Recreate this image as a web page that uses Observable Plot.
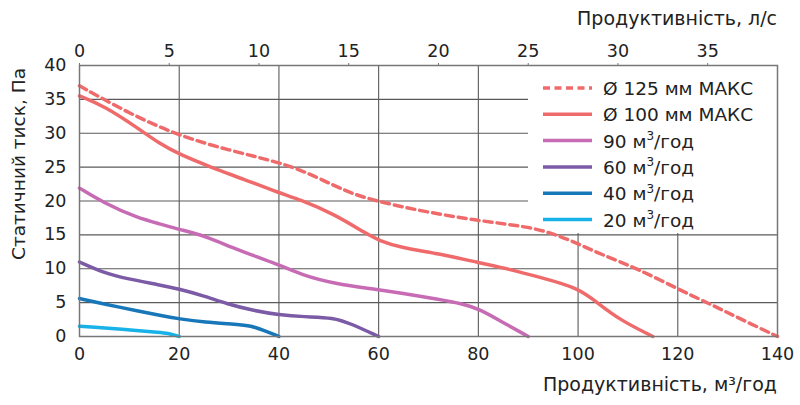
<!DOCTYPE html>
<html><head><meta charset="utf-8">
<script src="https://cdn.jsdelivr.net/npm/d3@7"></script>
<script src="https://cdn.jsdelivr.net/npm/@observablehq/plot@0.6"></script>
<style>
body{margin:0;background:#fff}
svg{font-family:'DejaVu Sans',sans-serif}
</style>
</head><body><div id="chart"></div>
<script>
// ---- data (flow in m³/год, static pressure in Па) ----
const seriesNames = ["Ø 125 мм МАКС", "Ø 100 мм МАКС", "90 м³/год", "60 м³/год", "40 м³/год", "20 м³/год"];
const seriesColors = ["#ef6b6b", "#ef6b6b", "#c76cb4", "#7b5aa6", "#1877b9", "#17b2e8"];

const d125Flow = [0, 10, 20, 30, 40, 45, 51, 55, 60, 70, 80, 90, 95, 100, 105, 112, 120, 127, 132, 140];
const d125Pa   = [37, 32.9, 29.6, 27.5, 25.7, 24.4, 22.3, 21, 19.9, 18.3, 17.1, 16.2, 15.2, 13.7, 12, 10, 7, 4.6, 2.8, 0];

const d100Flow = [0, 5, 11.6, 16.2, 20, 26.3, 33, 40, 44.3, 51, 57.7, 60, 64.4, 72.4, 80, 86.4, 92.5, 100, 104, 108.5, 115];
const d100Pa   = [35.5, 34, 30.8, 28.4, 26.9, 25, 23.2, 21.2, 20.2, 18.1, 15.1, 14.2, 13.1, 12.2, 10.9, 9.9, 8.7, 7.2, 4.9, 2.4, 0];

const v90Flow = [0, 4.9, 11.6, 16.2, 20, 25, 31.6, 40, 44.5, 51, 60, 64.4, 72, 77, 80, 84.4, 90];
const v90Pa   = [21.9, 19.7, 17.5, 16.6, 15.8, 14.9, 12.8, 10.6, 9.1, 7.8, 6.9, 6.4, 5.5, 4.8, 4.1, 2.3, 0];

const v60Flow = [0, 4.9, 9.6, 16.2, 20, 25, 29.6, 35, 40, 45, 51, 54.4, 60];
const v60Pa   = [11, 9.4, 8.5, 7.6, 7.0, 6.0, 4.8, 3.8, 3.2, 2.9, 2.8, 1.9, 0];

const v40Flow = [0, 4.9, 11.6, 16.2, 20, 25, 31.7, 34.3, 37, 40];
const v40Pa   = [5.6, 4.8, 3.8, 3.1, 2.6, 2.1, 1.8, 1.6, 0.9, 0];

const v20Flow = [0, 4.9, 10.9, 16.2, 17.6, 20];
const v20Pa   = [1.5, 1.3, 0.9, 0.6, 0.5, 0];

const xTicks  = [0, 20, 40, 60, 80, 100, 120, 140];   // m³/год
const lsTicks = [0, 5, 10, 15, 20, 25, 30, 35];       // л/с
const yTicks  = [0, 5, 10, 15, 20, 25, 30, 35, 40];

// ---- build table ----
const flows = [d125Flow, d100Flow, v90Flow, v60Flow, v40Flow, v20Flow];
const pas   = [d125Pa, d100Pa, v90Pa, v60Pa, v40Pa, v20Pa];
const rows = [];
flows.forEach((f, i) => f.forEach((q, j) => rows.push({s: seriesNames[i], q, p: pas[i][j]})));
const dashed = rows.filter(r => r.s === seriesNames[0]);
const solid = rows.filter(r => r.s !== seriesNames[0]);

const plot = Plot.plot({
  width: 800, height: 405,
  marginLeft: 79, marginRight: 23, marginTop: 65, marginBottom: 69,
  style: {fontFamily: "'DejaVu Sans', sans-serif", fontSize: "17.5px", color: "#222", background: "#fff"},
  x: {domain: [0, 140]},
  y: {domain: [0, 40]},
  color: {domain: seriesNames, range: seriesColors},
  marks: [
    Plot.gridX(xTicks.slice(1, -1), {stroke: "#5a5a5a", strokeOpacity: 1, strokeWidth: 1.1}),
    Plot.gridY(yTicks.slice(1, -1), {stroke: "#5a5a5a", strokeOpacity: 1, strokeWidth: 1.1}),
    Plot.axisY(yTicks, {tickSize: 0, tickPadding: 13, label: null, fill: "#222"}),
    Plot.axisX(xTicks, {tickSize: 0, tickPadding: 11, label: null, fill: "#222"}),
    Plot.axisX(lsTicks.map(v => v * 3.6), {anchor: "top", tickFormat: d => Math.round(d / 3.6), tickSize: 3, tickPadding: 6, label: null, fill: "#222", stroke: "#777"}),
    Plot.line(dashed, {x: "q", y: "p", stroke: "s", strokeWidth: 3.5, strokeDasharray: "8,5", curve: "basis"}),
    Plot.line(solid, {x: "q", y: "p", z: "s", stroke: "s", strokeWidth: 3.5, curve: "basis"}),
    Plot.frame({stroke: "#777", strokeWidth: 1.5})
  ]
});

document.getElementById("chart").appendChild(plot);
const svg = d3.select(plot);
const ns = "http://www.w3.org/2000/svg";

// legend background placed below the curves
const firstLine = plot.querySelector('g[aria-label="line"]');
const bg = document.createElementNS(ns, "rect");
bg.setAttribute("x", 528); bg.setAttribute("y", 65);
bg.setAttribute("width", 249); bg.setAttribute("height", 168);
bg.setAttribute("fill", "#fff");
plot.insertBefore(bg, firstLine);

// legend
const lg = svg.append("g").attr("font-size", 18.5).attr("fill", "#222").attr("text-anchor", "start");
seriesNames.forEach((name, i) => {
  const y = 88 + i * 26.3;
  lg.append("line").attr("x1", 543).attr("x2", 592).attr("y1", y).attr("y2", y)
    .attr("stroke", seriesColors[i]).attr("stroke-width", 3.5)
    .attr("stroke-dasharray", i === 0 ? "7,4.5" : null);
  const t = lg.append("text").attr("x", 603).attr("y", y + 7);
  if (name.includes("м³")) {
    const [a, b] = name.split("³");
    t.append("tspan").text(a);
    t.append("tspan").attr("dy", -7.5).attr("font-size", 12).text("3");
    t.append("tspan").attr("dy", 7.5).text(b);
  } else {
    t.text(name);
  }
});

// axis titles
svg.append("text").attr("x", 777).attr("y", 25).attr("text-anchor", "end")
  .attr("font-size", 19).attr("fill", "#222").text("Продуктивність, л/с");
svg.append("text").attr("x", 777).attr("y", 391).attr("text-anchor", "end")
  .attr("font-size", 19).attr("fill", "#222").text("Продуктивність, м³/год");
svg.append("text").attr("transform", "translate(25,164) rotate(-90)").attr("text-anchor", "middle")
  .attr("font-size", 18.5).attr("fill", "#222").text("Статичний тиск, Па");
</script>
</body></html>
